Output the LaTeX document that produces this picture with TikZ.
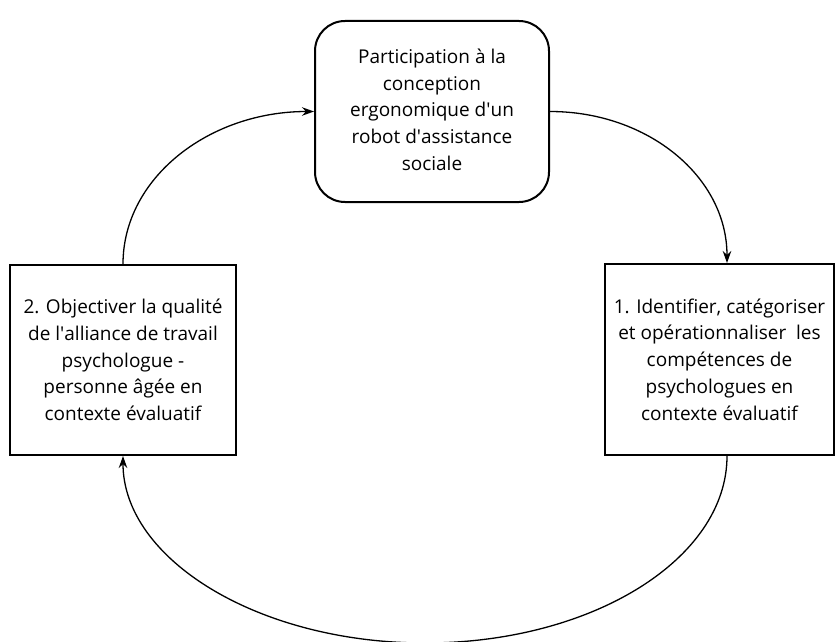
\documentclass[tikz,border=0pt]{standalone}
\usepackage{fontspec}
\setmainfont{Open Sans}
\usetikzlibrary{arrows.meta,calc}
\newcommand{\aq}{\textquotesingle}
\begin{document}
\begin{tikzpicture}[x=1pt,y=-1pt,
  box/.style={draw,line width=2pt,align=center,inner sep=0pt,
    font=\fontsize{19pt}{26.7pt}\selectfont},
  conn/.style={line width=1.3pt,-{Stealth[length=12pt,width=8.5pt]}}]
\useasboundingbox (0,0) rectangle (838,642);
\node[box,rounded corners=30pt,minimum width=234pt,minimum height=181pt] (T) at (432,111.5)
  {\raisebox{4pt}{\begin{tabular}{@{}c@{}}Participation à la\\conception\\ergonomique d\aq un\\robot d\aq assistance\\sociale\end{tabular}}};
\node[box,minimum width=226pt,minimum height=190pt] (L) at (123,360)
  {2. Objectiver la qualité\\de l\aq alliance de travail\\psychologue -\\personne âgée en\\contexte évaluatif};
\node[box,minimum width=229pt,minimum height=191pt] (R) at (719.5,359.5)
  {1. Identifier, catégoriser\\et opérationnaliser\ \ les\\compétences de\\psychologues en\\contexte évaluatif};
\coordinate (Rin) at ([xshift=7.5pt]R.north);
\coordinate (Rout) at ([xshift=7.5pt]R.south);
\coordinate (B) at (425,643);
% left box -> top box
\draw[conn] (L.north) .. controls ++(0,-86) and ++(-105,0) .. (T.west);
% top box -> right box
\draw[conn] (T.east) .. controls ++(98,0) and ++(0,-86) .. (Rin);
% right box -> left box
\draw[conn] (Rout) .. controls ++(0,103) and ++(167,0) .. (B)
  .. controls ++(-167,0) and ++(0,103) .. (L.south);
\end{tikzpicture}
\end{document}
